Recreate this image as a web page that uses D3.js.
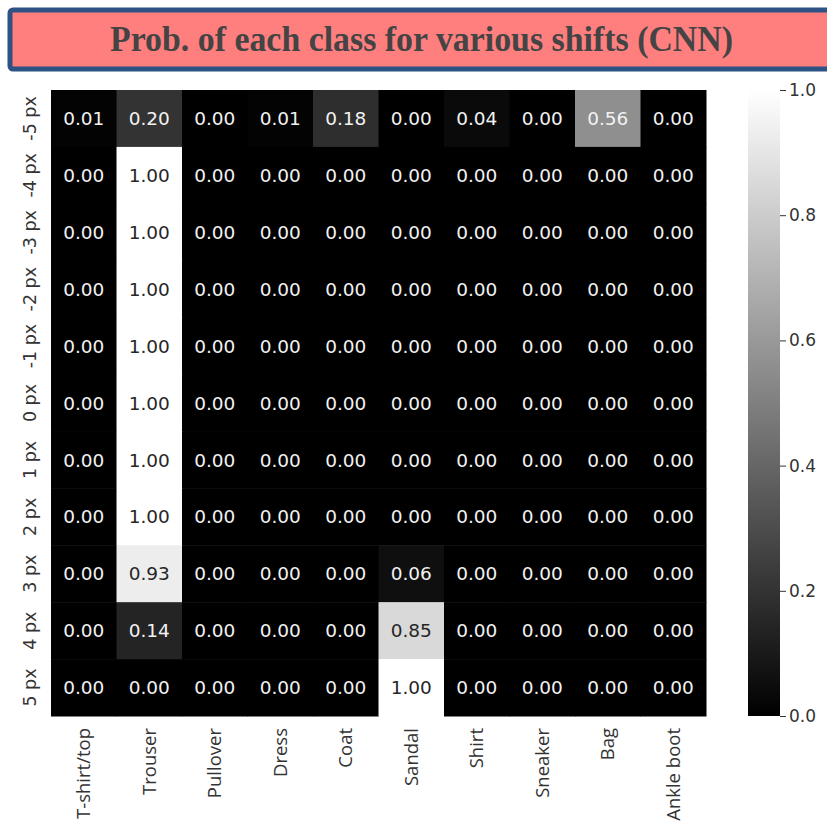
<!DOCTYPE html>
<html><head><meta charset="utf-8">
<script src="https://cdn.jsdelivr.net/npm/d3@7"></script>
<style>body{margin:0;background:#fff;} svg{display:block;}</style>
</head><body>
<script>
const classes = ["T-shirt/top","Trouser","Pullover","Dress","Coat","Sandal","Shirt","Sneaker","Bag","Ankle boot"];
const shifts = ["-5 px","-4 px","-3 px","-2 px","-1 px","0 px","1 px","2 px","3 px","4 px","5 px"];
const probs = [
  [0.01,0.20,0.00,0.01,0.18,0.00,0.04,0.00,0.56,0.00],
  [0.00,1.00,0.00,0.00,0.00,0.00,0.00,0.00,0.00,0.00],
  [0.00,1.00,0.00,0.00,0.00,0.00,0.00,0.00,0.00,0.00],
  [0.00,1.00,0.00,0.00,0.00,0.00,0.00,0.00,0.00,0.00],
  [0.00,1.00,0.00,0.00,0.00,0.00,0.00,0.00,0.00,0.00],
  [0.00,1.00,0.00,0.00,0.00,0.00,0.00,0.00,0.00,0.00],
  [0.00,1.00,0.00,0.00,0.00,0.00,0.00,0.00,0.00,0.00],
  [0.00,1.00,0.00,0.00,0.00,0.00,0.00,0.00,0.00,0.00],
  [0.00,0.93,0.00,0.00,0.00,0.06,0.00,0.00,0.00,0.00],
  [0.00,0.14,0.00,0.00,0.00,0.85,0.00,0.00,0.00,0.00],
  [0.00,0.00,0.00,0.00,0.00,1.00,0.00,0.00,0.00,0.00]
];
const cbarTicks = [0.0,0.2,0.4,0.6,0.8,1.0];
const title = "Prob. of each class for various shifts (CNN)";

const W = 827, H = 822;
const svg = d3.select("body").append("svg").attr("width", W).attr("height", H);

// Title banner
svg.append("rect").attr("x", 10).attr("y", 10).attr("width", 840).attr("height", 59)
  .attr("rx", 3).attr("fill", "#FF7F7F").attr("stroke", "#2D5283").attr("stroke-width", 5);
svg.append("text").attr("x", 110).attr("y", 51)
  .attr("textLength", 623).attr("lengthAdjust", "spacingAndGlyphs")
  .attr("font-family", "Liberation Serif, serif").attr("font-weight", "bold")
  .attr("font-size", 35).attr("fill", "#444").text(title);

// Heatmap
const x = d3.scaleBand().domain(classes).range([51, 706]);
const y = d3.scaleBand().domain(shifts).range([90, 716]);
const color = d3.scaleLinear().domain([0, 1]).range(["#000000", "#ffffff"]);

const cells = [];
probs.forEach((row, i) => row.forEach((v, j) => cells.push({r: shifts[i], c: classes[j], v})));

const g = svg.append("g");
g.selectAll("rect").data(cells).join("rect")
  .attr("x", d => x(d.c)).attr("y", d => y(d.r))
  .attr("width", x.bandwidth() + 0.5).attr("height", y.bandwidth() + 0.5)
  .attr("fill", d => color(d.v));
g.selectAll("text").data(cells).join("text")
  .attr("x", d => x(d.c) + x.bandwidth() / 2)
  .attr("y", d => y(d.r) + y.bandwidth() / 2)
  .attr("dy", "0.36em").attr("text-anchor", "middle")
  .attr("font-family", "DejaVu Sans, sans-serif").attr("font-size", 18.5)
  .attr("fill", d => d.v > 0.65 ? "#262626" : "#f2f2f2")
  .text(d => d.v.toFixed(2));

// Y axis labels (rotated)
const yAxis = svg.append("g").attr("transform", "translate(51,0)")
  .call(d3.axisLeft(y).tickSize(0).tickPadding(0));
yAxis.select(".domain").remove();
yAxis.selectAll("text")
  .attr("font-family", "DejaVu Sans, sans-serif").attr("font-size", 17.5).attr("fill", "#333")
  .attr("text-anchor", "middle").attr("x", null).attr("dy", null)
  .attr("transform", "translate(-15,0) rotate(-90)");

// X axis labels (rotated)
const xAxis = svg.append("g").attr("transform", "translate(0,716)")
  .call(d3.axisBottom(x).tickSize(0).tickPadding(0));
xAxis.select(".domain").remove();
xAxis.selectAll("text")
  .attr("font-family", "Open Sans, sans-serif").attr("font-size", 18.5).attr("fill", "#333")
  .attr("text-anchor", "end").attr("y", 0).attr("dy", "0.35em")
  .attr("transform", "translate(0,12) rotate(-90)");

// Colorbar
const defs = svg.append("defs");
const grad = defs.append("linearGradient").attr("id", "cb").attr("x1", 0).attr("y1", 1).attr("x2", 0).attr("y2", 0);
grad.append("stop").attr("offset", 0).attr("stop-color", color(0));
grad.append("stop").attr("offset", 1).attr("stop-color", color(1));
const cy = d3.scaleLinear().domain([0, 1]).range([716, 90]);
svg.append("rect").attr("x", 748).attr("y", 90).attr("width", 32).attr("height", 626).attr("fill", "url(#cb)");
const cAxis = svg.append("g").attr("transform", "translate(780,0)")
  .call(d3.axisRight(cy).tickValues(cbarTicks).tickFormat(d3.format(".1f")).tickSize(6).tickPadding(3));
cAxis.select(".domain").remove();
cAxis.selectAll("line").attr("stroke", "#333");
cAxis.selectAll("text").attr("font-family", "DejaVu Sans, sans-serif").attr("font-size", 17).attr("fill", "#333");
</script>
</body></html>
